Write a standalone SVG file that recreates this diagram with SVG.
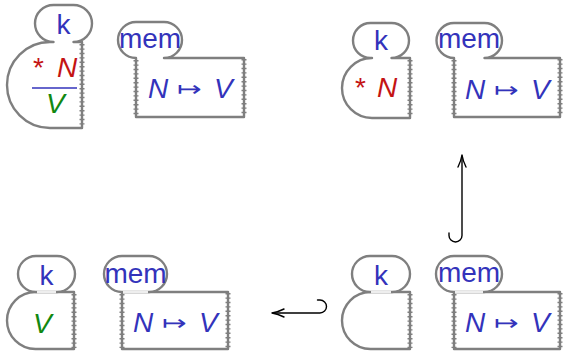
<svg xmlns="http://www.w3.org/2000/svg" width="564" height="351" viewBox="0 0 564 351">
<style>
.sh{fill:#fff;stroke:#7f7f7f;stroke-width:2.4;stroke-linejoin:round}
.zz{fill:none;stroke:#7f7f7f;stroke-width:5;stroke-dasharray:1.4 3}
.gap{stroke:#eeeeee;stroke-width:2.8;fill:none}
.t{font-family:"Liberation Sans",Arial,sans-serif;font-size:28px}
.b{fill:#3333bb}
.r{fill:#c41414}
.g{fill:#118811}
.i{font-style:italic}
.m{font-family:"DejaVu Sans",sans-serif;font-size:21px;fill:#3333bb}
.ar{fill:none;stroke:#000;stroke-width:1.4;stroke-linecap:round;stroke-linejoin:round}
</style>
<rect width="564" height="351" fill="#fff"/>

<g id="p1-k">
<path class="sh" d="M53.5,42 A18.5,18.5 0 0 1 35,23.5 A18.5,18.5 0 0 1 53.5,5 L73.5,5 A18.5,18.5 0 0 1 92,23.5 A18.5,18.5 0 0 1 73.5,42 L82,42 L82,128 L50,128 A43,43 0 0 1 50,42 Z"/>
<line class="zz" x1="82" y1="44" x2="82" y2="127"/>
<text class="t b" x="63.5" y="34" text-anchor="middle">k</text>
<text class="t r" x="33" y="77">*</text>
<text class="t r i" x="57" y="77">N</text>
<line x1="32" y1="88" x2="77" y2="88" stroke="#3333bb" stroke-width="1.5"/>
<text class="t g i" x="46" y="113">V</text>
</g>

<g id="p1-mem">
<path class="sh" d="M164,58 L244,58 L244,117 L136,117 L136,58 A18,18 0 0 1 118,40 A18,18 0 0 1 136,22 L164,22 A18,18 0 0 1 182,40 A18,18 0 0 1 164,58 Z"/>
<line class="zz" x1="136" y1="60" x2="136" y2="116"/>
<line class="zz" x1="244" y1="59" x2="244" y2="116"/>
<text class="t b" x="150" y="48" text-anchor="middle">mem</text>
<text class="t b i" x="148" y="98">N</text>
<text class="m" transform="translate(177,95.5) scale(1.4,1)">↦</text>
<text class="t b i" x="214" y="98">V</text>
</g>

<g id="p2-k">
<path class="sh" d="M370.5,58 A17.5,17.5 0 0 1 353,40.5 A17.5,17.5 0 0 1 370.5,23 L391.5,23 A17.5,17.5 0 0 1 409,40.5 A17.5,17.5 0 0 1 391.5,58 L410,58 L410,118 L372,118 A30,30 0 0 1 372,58 Z"/>
<line class="zz" x1="410" y1="60" x2="410" y2="117"/>
<text class="t b" x="381" y="50" text-anchor="middle">k</text>
<text class="t r" x="355" y="97">*</text>
<text class="t r i" x="377" y="97">N</text>
</g>

<g id="p2-mem">
<path class="sh" d="M484.5,58 L560,58 L560,117 L454,117 L454,58 A17.5,17.5 0 0 1 436.5,40.5 A17.5,17.5 0 0 1 454,23 L484.5,23 A17.5,17.5 0 0 1 502,40.5 A17.5,17.5 0 0 1 484.5,58 Z"/>
<line class="zz" x1="454" y1="60" x2="454" y2="116"/>
<line class="zz" x1="560" y1="59" x2="560" y2="116"/>
<text class="t b" x="469" y="48" text-anchor="middle">mem</text>
<text class="t b i" x="465" y="99">N</text>
<text class="m" transform="translate(494,96.5) scale(1.4,1)">↦</text>
<text class="t b i" x="531" y="99">V</text>
</g>

<g id="p3-k">
<path class="sh" d="M74,292 L74,349 L35.5,349 A28.5,28.5 0 0 1 35.5,292 Z"/>
<rect class="sh" x="18" y="256" width="57" height="36" rx="18"/>
<line class="gap" x1="37" y1="292" x2="56" y2="292"/>
<line class="zz" x1="74" y1="294" x2="74" y2="348"/>
<text class="t b" x="46.5" y="285" text-anchor="middle">k</text>
<text class="t g i" x="33" y="333">V</text>
</g>

<g id="p3-mem">
<rect class="sh" x="122" y="292" width="106" height="57"/>
<rect class="sh" x="104" y="256" width="63" height="36" rx="18"/>
<line class="gap" x1="123" y1="292" x2="148" y2="292"/>
<line class="zz" x1="122" y1="294" x2="122" y2="348"/>
<line class="zz" x1="228" y1="293" x2="228" y2="348"/>
<text class="t b" x="135.5" y="283" text-anchor="middle">mem</text>
<text class="t b i" x="133" y="332">N</text>
<text class="m" transform="translate(162,329.5) scale(1.4,1)">↦</text>
<text class="t b i" x="199" y="332">V</text>
</g>

<g id="p4-k">
<path class="sh" d="M410,292 L410,349 L370.5,349 A28.5,28.5 0 0 1 370.5,292 Z"/>
<rect class="sh" x="352" y="256" width="58" height="36" rx="18"/>
<line class="gap" x1="371" y1="292" x2="391" y2="292"/>
<line class="zz" x1="410" y1="294" x2="410" y2="348"/>
<text class="t b" x="381" y="285" text-anchor="middle">k</text>
</g>

<g id="p4-mem">
<rect class="sh" x="454" y="292" width="106" height="57"/>
<rect class="sh" x="436" y="256" width="66" height="36" rx="18"/>
<line class="gap" x1="455" y1="292" x2="483" y2="292"/>
<line class="zz" x1="454" y1="294" x2="454" y2="348"/>
<line class="zz" x1="560" y1="293" x2="560" y2="348"/>
<text class="t b" x="469" y="282" text-anchor="middle">mem</text>
<text class="t b i" x="465" y="332">N</text>
<text class="m" transform="translate(494,329.5) scale(1.4,1)">↦</text>
<text class="t b i" x="531" y="332">V</text>
</g>

<g id="connectors">
<path class="ar" d="M462,156 L462,235.5 A6.5,6.5 0 0 1 449,235.5 L449,233"/>
<path class="ar" d="M458,167 Q461,161 462,155 Q463,161 466,167"/>
<path class="ar" d="M273,313 L320,313 A6.5,6.5 0 0 0 320,300 L317.5,300"/>
<path class="ar" d="M284,309 Q278,312 272,313 Q278,314 284,317"/>
</g>
</svg>
